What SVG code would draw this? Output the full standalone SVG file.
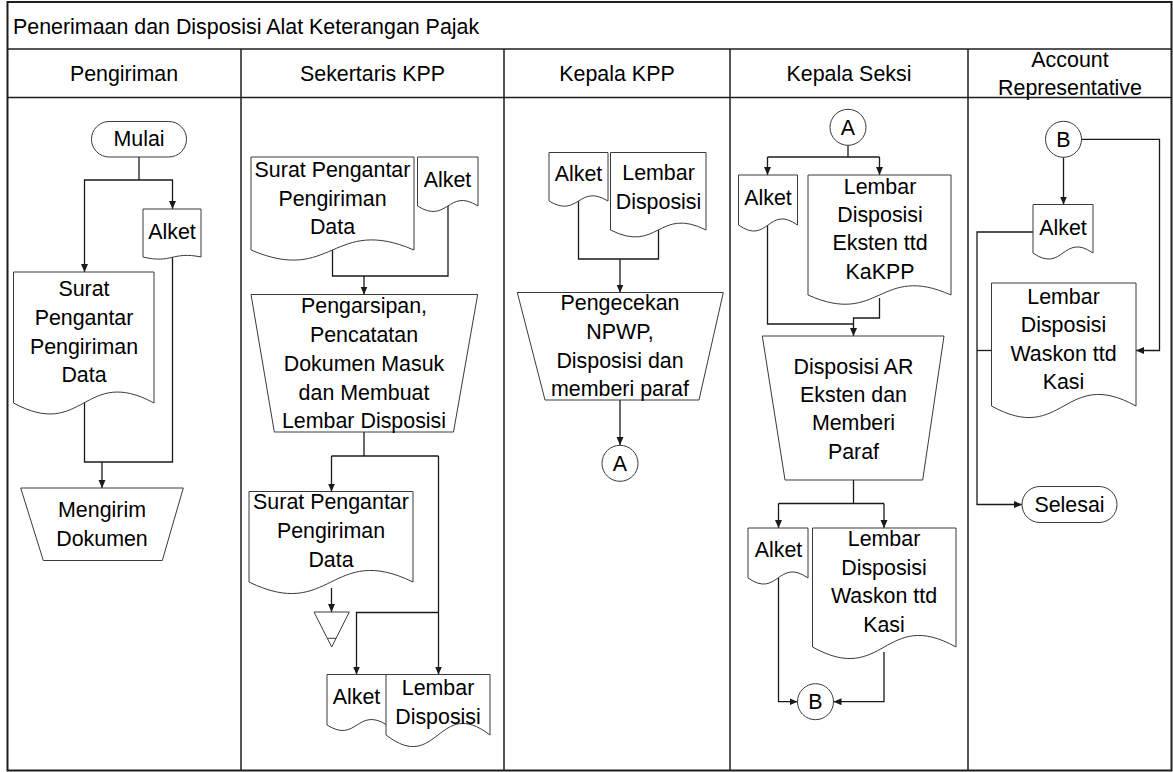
<svg xmlns="http://www.w3.org/2000/svg" width="1173" height="772" viewBox="0 0 1173 772">
<style>
.frame{fill:none;stroke:#1e1e1e;stroke-width:2}
.lane{fill:none;stroke:#1e1e1e;stroke-width:1.5}
.shape{fill:#fff;stroke:#3a3a3a;stroke-width:1}
.conn{fill:none;stroke:#1a1a1a;stroke-width:1.3}
.arr{fill:none;stroke:#1a1a1a;stroke-width:1.3;marker-end:url(#ah)}
text{font-family:"Liberation Sans",Arial,sans-serif;font-size:21.4px;fill:#000}
.c{text-anchor:middle}
</style>
<defs>
<marker id="ah" markerUnits="userSpaceOnUse" markerWidth="9" markerHeight="8" refX="8" refY="3.5" orient="auto">
<path d="M0,0 L8,3.5 L0,7 z" fill="#1a1a1a"/>
</marker>
</defs>
<rect x="0" y="0" width="1173" height="772" fill="#fff"/>
<g id="frame">
<rect class="frame" x="7.5" y="2" width="1164" height="768.5"/>
<line class="lane" x1="7.5" y1="49" x2="1171.5" y2="49"/>
<line class="lane" x1="7.5" y1="97.5" x2="1171.5" y2="97.5"/>
<line class="lane" x1="241" y1="49" x2="241" y2="770.5"/>
<line class="lane" x1="504" y1="49" x2="504" y2="770.5"/>
<line class="lane" x1="730" y1="49" x2="730" y2="770.5"/>
<line class="lane" x1="968" y1="49" x2="968" y2="770.5"/>
<text x="13" y="34">Penerimaan dan Disposisi Alat Keterangan Pajak</text>
<text class="c" x="124" y="81">Pengiriman</text>
<text class="c" x="372.5" y="81">Sekertaris KPP</text>
<text class="c" x="617" y="81">Kepala KPP</text>
<text class="c" x="849" y="81">Kepala Seksi</text>
<text class="c" x="1070" y="67">Account</text>
<text class="c" x="1070" y="95">Representative</text>
</g>
<g id="connectors">
<path class="conn" d="M139 157 V180"/>
<path class="arr" d="M139 180 H84.5 V272"/>
<path class="arr" d="M139 180 H172.5 V209"/>
<path class="conn" d="M84.5 400 V462 H102"/>
<path class="conn" d="M172.5 255 V462 H102"/>
<path class="arr" d="M102 462 V488"/>
<path class="conn" d="M332.5 248 V276 H448 V204"/>
<path class="arr" d="M364 276 V294.5"/>
<path class="conn" d="M364 432 V456"/>
<path class="conn" d="M331.5 456 H438.5"/>
<path class="arr" d="M331.5 456 V491.5"/>
<path class="arr" d="M438.5 456 V674.5"/>
<path class="arr" d="M438.5 612.5 H356.5 V674.5"/>
<path class="arr" d="M331.5 588 V612"/>
<path class="conn" d="M578.5 200 V259 H658.5 V228"/>
<path class="arr" d="M620 259 V292.5"/>
<path class="arr" d="M620 400 V445"/>
<path class="conn" d="M848 145 V157"/>
<path class="conn" d="M767.5 157 H879.5"/>
<path class="arr" d="M767.5 157 V175"/>
<path class="arr" d="M879.5 157 V175"/>
<path class="conn" d="M767.5 226 V324 H853.5"/>
<path class="arr" d="M879.5 298 V318 H853.5 V336"/>
<path class="conn" d="M853.5 480 V503.5"/>
<path class="conn" d="M778.5 503.5 H884"/>
<path class="arr" d="M778.5 503.5 V528"/>
<path class="arr" d="M884 503.5 V528"/>
<path class="arr" d="M778.5 578 V701.7 H797.5"/>
<path class="arr" d="M884 652 V701.7 H833.5"/>
<path class="arr" d="M1063.5 157 V204.5"/>
<path class="arr" d="M1081.5 139.3 H1159.5 V350.5 H1136"/>
<path class="arr" d="M1033 232 H977 V504.5 H1022"/>
<path class="conn" d="M991.5 350.5 H977"/>
</g>
<g id="p-mulai">
<rect class="shape" x="91.5" y="121.5" width="95" height="35.5" rx="17.7"/>
<text class="c" x="139" y="146">Mulai</text>
</g>
<g id="p-alket">
<path class="shape" d="M143 209 H201 V257 C172 251 172 264 143 257 Z"/>
<text class="c" x="172" y="239">Alket</text>
</g>
<g id="p-surat">
<path class="shape" d="M13.5 272 H154 V403 C83.75 365 83.75 441 13.5 403 Z"/>
<text class="c" x="84" y="296">Surat</text>
<text class="c" x="84" y="325">Pengantar</text>
<text class="c" x="84" y="353.5">Pengiriman</text>
<text class="c" x="84" y="382">Data</text>
</g>
<g id="p-kirim">
<path class="shape" d="M20.7 488 H183.3 L162.3 560.5 H43.3 Z"/>
<text class="c" x="102" y="517">Mengirim</text>
<text class="c" x="102" y="546">Dokumen</text>
</g>
<g id="s-surat1">
<path class="shape" d="M251 157 H414 V250 C332.5 215 332.5 285 251 250 Z"/>
<text class="c" x="332.5" y="177">Surat Pengantar</text>
<text class="c" x="332.5" y="205.5">Pengiriman</text>
<text class="c" x="332.5" y="234">Data</text>
</g>
<g id="s-alket1">
<path class="shape" d="M417.5 157 H478 V206 C447.75 187 447.75 225 417.5 206 Z"/>
<text class="c" x="447.5" y="187">Alket</text>
</g>
<g id="s-arsip">
<path class="shape" d="M251 294.5 H477.7 L453.5 432 H274.3 Z"/>
<text class="c" x="364" y="313">Pengarsipan,</text>
<text class="c" x="364" y="342">Pencatatan</text>
<text class="c" x="364" y="371">Dokumen Masuk</text>
<text class="c" x="364" y="399.5">dan Membuat</text>
<text class="c" x="364" y="428">Lembar Disposisi</text>
</g>
<g id="s-surat2">
<path class="shape" d="M249 491.5 H413 V582 C331 542 331 622 249 582 Z"/>
<text class="c" x="331" y="509">Surat Pengantar</text>
<text class="c" x="331" y="538">Pengiriman</text>
<text class="c" x="331" y="566.5">Data</text>
</g>
<g id="s-arsip-file">
<path class="shape" d="M314 612 H349.3 L331.7 647 Z"/>
<line class="shape" x1="327.2" y1="638.3" x2="336.2" y2="638.3"/>
</g>
<g id="s-alket2">
<path class="shape" d="M327 674.5 H387 V725 C357 706 357 744 327 725 Z"/>
<text class="c" x="356.5" y="704">Alket</text>
</g>
<g id="s-lembar">
<path class="shape" d="M386 674.5 H490 V735 C438 695 438 775 386 735 Z"/>
<text class="c" x="438" y="695">Lembar</text>
<text class="c" x="438" y="723.5">Disposisi</text>
</g>
<g id="k-alket">
<path class="shape" d="M549 152.5 H608 V201 C578.5 183 578.5 219 549 201 Z"/>
<text class="c" x="578.5" y="181">Alket</text>
</g>
<g id="k-lembar">
<path class="shape" d="M610.5 152.5 H706 V230 C658.25 206 658.25 254 610.5 230 Z"/>
<text class="c" x="658.5" y="180">Lembar</text>
<text class="c" x="658.5" y="208.5">Disposisi</text>
</g>
<g id="k-cek">
<path class="shape" d="M517.3 292.5 H723.3 L699 400 H545 Z"/>
<text class="c" x="620" y="310">Pengecekan</text>
<text class="c" x="620" y="339">NPWP,</text>
<text class="c" x="620" y="367.5">Disposisi dan</text>
<text class="c" x="620" y="396">memberi paraf</text>
</g>
<g id="k-a">
<circle class="shape" cx="620" cy="463.3" r="18"/>
<text class="c" x="620" y="470.8">A</text>
</g>
<g id="ks-a">
<circle class="shape" cx="848" cy="127.3" r="18"/>
<text class="c" x="848" y="134.8">A</text>
</g>
<g id="ks-alket1">
<path class="shape" d="M738.5 175 H797.5 V225 C768 204 768 246 738.5 225 Z"/>
<text class="c" x="768" y="205">Alket</text>
</g>
<g id="ks-lembar1">
<path class="shape" d="M808 175 H951 V295 C879.5 263 879.5 327 808 295 Z"/>
<text class="c" x="880" y="193.5">Lembar</text>
<text class="c" x="880" y="222">Disposisi</text>
<text class="c" x="880" y="250">Eksten ttd</text>
<text class="c" x="880" y="278.5">KaKPP</text>
</g>
<g id="ks-disposisi">
<path class="shape" d="M762.3 336 H944 L922.7 480 H785 Z"/>
<text class="c" x="853.5" y="373.5">Disposisi AR</text>
<text class="c" x="853.5" y="402">Eksten dan</text>
<text class="c" x="853.5" y="430">Memberi</text>
<text class="c" x="853.5" y="458.5">Paraf</text>
</g>
<g id="ks-alket2">
<path class="shape" d="M748 528 H808 V578 C778 557 778 599 748 578 Z"/>
<text class="c" x="778.5" y="557">Alket</text>
</g>
<g id="ks-lembar2">
<path class="shape" d="M812.5 528 H956 V647 C884.25 607 884.25 687 812.5 647 Z"/>
<text class="c" x="884" y="546">Lembar</text>
<text class="c" x="884" y="574.5">Disposisi</text>
<text class="c" x="884" y="603">Waskon ttd</text>
<text class="c" x="884" y="631.5">Kasi</text>
</g>
<g id="ks-b">
<circle class="shape" cx="815.5" cy="701.7" r="18"/>
<text class="c" x="815.5" y="709.2">B</text>
</g>
<g id="ar-b">
<circle class="shape" cx="1063.5" cy="139.3" r="18"/>
<text class="c" x="1063.5" y="146.8">B</text>
</g>
<g id="ar-alket">
<path class="shape" d="M1033 204.5 H1093 V253 C1063 232 1063 274 1033 253 Z"/>
<text class="c" x="1063" y="235">Alket</text>
</g>
<g id="ar-lembar">
<path class="shape" d="M991.5 283 H1136 V406 C1063.75 366 1063.75 446 991.5 406 Z"/>
<text class="c" x="1063.5" y="304">Lembar</text>
<text class="c" x="1063.5" y="332">Disposisi</text>
<text class="c" x="1063.5" y="361">Waskon ttd</text>
<text class="c" x="1063.5" y="389">Kasi</text>
</g>
<g id="ar-selesai">
<rect class="shape" x="1022" y="486.5" width="95" height="36" rx="18"/>
<text class="c" x="1069.5" y="511.5">Selesai</text>
</g>
</svg>
